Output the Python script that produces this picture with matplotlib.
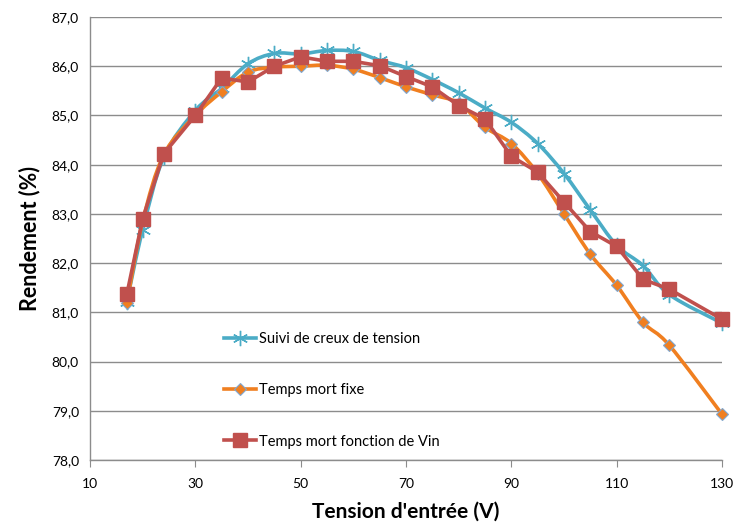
import numpy as np
import matplotlib.pyplot as plt
from matplotlib.path import Path
from matplotlib.patches import PathPatch
from matplotlib.ticker import FuncFormatter, MultipleLocator

plt.rcParams['font.family'] = ['Lato', 'DejaVu Sans']

# Tension d'entree (V)
vin = [17, 20, 24, 30, 35, 40, 45, 50, 55, 60, 65, 70, 75, 80, 85, 90, 95,
       100, 105, 110, 115, 120, 130]

# Rendement (%) pour chaque strategie
suivi_creux = [81.22, 82.68, 84.15, 85.10, 85.55, 86.05, 86.26, 86.25, 86.32,
               86.30, 86.12, 85.97, 85.73, 85.46, 85.15, 84.86, 84.43, 83.82,
               83.08, 82.36, 81.95, 81.36, 80.78]
temps_fixe = [81.19, 82.85, 84.20, 85.00, 85.48, 85.88, 85.98, 86.00, 86.02,
              85.94, 85.77, 85.58, 85.42, 85.25, 84.76, 84.43, 83.82, 83.00,
              82.18, 81.55, 80.80, 80.33, 78.93]
temps_vin = [81.37, 82.90, 84.22, 85.00, 85.76, 85.68, 86.00, 86.19, 86.10,
             86.10, 86.01, 85.79, 85.58, 85.20, 84.93, 84.17, 83.85, 83.24,
             82.64, 82.34, 81.67, 81.47, 80.86]

x_ticks = [10, 30, 50, 70, 90, 110, 130]

BLUE = '#4BACC6'
ORANGE = '#F07F20'
RED = '#C0504D'


def smooth_path(x, y):
    # Catmull-Rom spline as cubic bezier segments (Excel style smoothing)
    x = np.asarray(x, float)
    y = np.asarray(y, float)
    pts = np.column_stack([x, y])
    verts = [pts[0]]
    codes = [Path.MOVETO]
    n = len(pts)
    for i in range(n - 1):
        p0 = pts[i - 1] if i > 0 else pts[i]
        p1 = pts[i]
        p2 = pts[i + 1]
        p3 = pts[i + 2] if i + 2 < n else pts[i + 1]
        c1 = p1 + (p2 - p0) / 6.0
        c2 = p2 - (p3 - p1) / 6.0
        verts += [c1, c2, p2]
        codes += [Path.CURVE4] * 3
    return Path(verts, codes)


fig = plt.figure(figsize=(7.37, 5.23), dpi=100)
ax = fig.add_axes([90 / 737, 63 / 523, 632 / 737, 443 / 523])

# blue curve, smoothed
ax.add_patch(PathPatch(smooth_path(vin, suivi_creux), fill=False,
                       edgecolor=BLUE, lw=2.6, zorder=3, capstyle='round',
                       clip_on=False))
ax.plot(vin, suivi_creux, ls='none', marker=(6, 2, 0), ms=11, mew=1.0,
        color=BLUE, zorder=3, clip_on=False)

# orange curve, smoothed
ax.add_patch(PathPatch(smooth_path(vin, temps_fixe), fill=False,
                       edgecolor=ORANGE, lw=2.6, zorder=4, capstyle='round',
                       clip_on=False))
ax.plot(vin, temps_fixe, ls='none', marker='D', ms=6, mfc=ORANGE,
        mec='#7FA7D0', mew=0.8, zorder=4, clip_on=False)

# red curve, straight segments
ax.plot(vin, temps_vin, color=RED, lw=2.6, marker='s', ms=10, mfc=RED,
        mec=RED, zorder=5, clip_on=False)

# legend handles
h1, = ax.plot([], [], color=BLUE, lw=2.6, marker=(6, 2, 0), ms=11, mew=1.0)
h2, = ax.plot([], [], color=ORANGE, lw=2.6, marker='D', ms=6, mfc=ORANGE,
              mec='#7FA7D0', mew=0.8)
h3, = ax.plot([], [], color=RED, lw=2.6, marker='s', ms=10)
ax.legend([h1, h2, h3],
          ['Suivi de creux de tension', 'Temps mort fixe',
           'Temps mort fonction de Vin'],
          loc='upper left', bbox_to_anchor=(0.2, 0.305), frameon=False,
          fontsize=10.5, labelspacing=2.55, handlelength=2.2,
          handletextpad=0.25, borderpad=0)

ax.set_xlim(10, 130)
ax.set_ylim(78, 87)
ax.set_xticks(x_ticks)
ax.yaxis.set_major_locator(MultipleLocator(1))
ax.yaxis.set_major_formatter(FuncFormatter(lambda v, p: f'{v:.1f}'.replace('.', ',')))

ax.grid(axis='y', color='#8C8C8C', lw=1.0)
ax.set_axisbelow(True)
for s in ['top', 'right']:
    ax.spines[s].set_visible(False)
for s in ['left', 'bottom']:
    ax.spines[s].set_color('#8C8C8C')
    ax.spines[s].set_linewidth(1.0)

ax.tick_params(axis='x', direction='out', length=5, color='#8C8C8C',
               labelsize=10, pad=8)
ax.tick_params(axis='y', length=0, labelsize=10, pad=8)

ax.set_xlabel("Tension d'entrée (V)", fontsize=15, fontweight='bold',
              labelpad=8)
ax.set_ylabel('Rendement (%)', fontsize=15.5, fontweight='bold', labelpad=8)

fig.savefig('out.png', dpi=100)
